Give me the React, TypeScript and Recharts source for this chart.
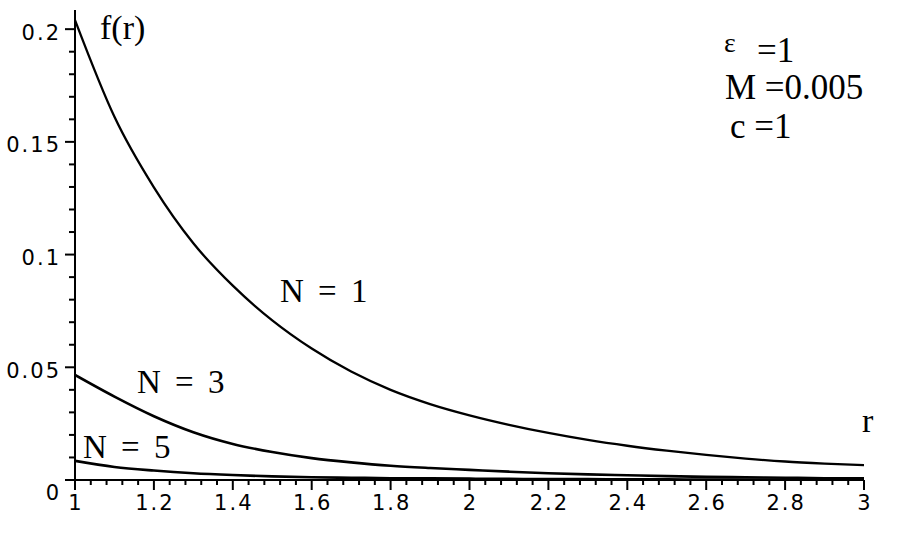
import React from 'react';
import { LineChart, Line, XAxis, YAxis, Customized } from 'recharts';

const rValues = [1, 1.1, 1.2, 1.3, 1.4, 1.5, 1.6, 1.7, 1.8, 1.9, 2.0, 2.1, 2.2, 2.3, 2.4, 2.5, 2.6, 2.7, 2.8, 2.9, 3.0];
const fN1 = [0.204, 0.1611, 0.1298, 0.1050, 0.0862, 0.0708, 0.0583, 0.0481, 0.0400, 0.0337, 0.0287, 0.0245, 0.0209, 0.0178, 0.0152, 0.0130, 0.0111, 0.0095, 0.0082, 0.0073, 0.0066];
const fN3 = [0.0466, 0.0370, 0.0283, 0.0212, 0.0160, 0.0124, 0.0097, 0.0078, 0.0063, 0.0053, 0.0045, 0.0037, 0.0030, 0.0025, 0.0021, 0.0017, 0.0014, 0.0012, 0.0010, 0.0008, 0.0007];
const fN5 = [0.0085, 0.0058, 0.0042, 0.0030, 0.0022, 0.0016, 0.0012, 0.0010, 0.0008, 0.0007, 0.0006, 0.0005, 0.0004, 0.0004, 0.0003, 0.0003, 0.0002, 0.0002, 0.0002, 0.0001, 0.0001];

const xMajorTicks = [1, 1.2, 1.4, 1.6, 1.8, 2, 2.2, 2.4, 2.6, 2.8, 3];
const xTickLabels = ['1', '1.2', '1.4', '1.6', '1.8', '2', '2.2', '2.4', '2.6', '2.8', '3'];
const yMajorTicks = [0, 0.05, 0.1, 0.15, 0.2];
const yTickLabels = ['0', '0.05', '0.1', '0.15', '0.2'];
const xMinorStep = 0.04;
const yMinorStep = 0.01;

const seriesLabels = ['N = 1', 'N = 3', 'N = 5'];
const paramLabels = ['ε', '=1', 'M =0.005', 'c =1'];

const data = rValues.map((r, i) => ({ r, n1: fN1[i], n3: fN3[i], n5: fN5[i] }));

const xTicks: number[] = [];
for (let i = 0; i < xMajorTicks.length - 1; i++) {
  const a = xMajorTicks[i];
  const b = xMajorTicks[i + 1];
  const n = Math.round((b - a) / xMinorStep);
  for (let k = 0; k < n; k++) xTicks.push(+(a + k * xMinorStep).toFixed(4));
}
xTicks.push(xMajorTicks[xMajorTicks.length - 1]);

const yTicks: number[] = [];
for (let i = 0; i < yMajorTicks.length - 1; i++) {
  const a = yMajorTicks[i];
  const b = yMajorTicks[i + 1];
  const n = Math.round((b - a) / yMinorStep);
  for (let k = 0; k < n; k++) yTicks.push(+(a + k * yMinorStep).toFixed(4));
}
yTicks.push(yMajorTicks[yMajorTicks.length - 1]);

const tickFont = { fontFamily: '"DejaVu Sans", sans-serif', fontSize: 21, letterSpacing: 2 };
const serif = '"Liberation Serif", "Times New Roman", serif';

const majorIndex = (list: number[], v: number) => list.findIndex((m) => Math.abs(m - v) < 1e-6);

const XTick = (props: any) => {
  const { x, y, payload } = props;
  const idx = majorIndex(xMajorTicks, payload.value);
  const major = idx >= 0;
  return (
    <g>
      <line x1={x} x2={x} y1={y} y2={y + (major ? 10 : 5)} stroke="#000" strokeWidth={2} />
      {major && (
        <text x={x + 1} y={y + 30} textAnchor="middle" fill="#000" style={tickFont}>
          {xTickLabels[idx]}
        </text>
      )}
    </g>
  );
};

const YTick = (props: any) => {
  const { x, y, payload } = props;
  const idx = majorIndex(yMajorTicks, payload.value);
  const major = idx >= 0;
  const isZero = major && yMajorTicks[idx] === 0;
  return (
    <g>
      <line x1={x - (major ? 10 : 6)} x2={x} y1={y} y2={y} stroke="#000" strokeWidth={2} />
      {major && (
        <text x={x - 14} y={y + (isZero ? 20 : 10.5)} textAnchor="end" fill="#000" style={tickFont}>
          {yTickLabels[idx]}
        </text>
      )}
    </g>
  );
};

const Annotations = () => (
  <g fill="#000" style={{ fontFamily: serif }}>
    <text x={100} y={39} fontSize={34}>f(r)</text>
    <text x={862} y={432} fontSize={34}>r</text>
    <text x={280} y={302} fontSize={33} style={{ wordSpacing: 6 }}>{seriesLabels[0]}</text>
    <text x={137} y={393} fontSize={33} style={{ wordSpacing: 6 }}>{seriesLabels[1]}</text>
    <text x={83} y={458} fontSize={33} style={{ wordSpacing: 6 }}>{seriesLabels[2]}</text>
    <text x={724} y={52} fontSize={28}>{paramLabels[0]}</text>
    <text x={757} y={62} fontSize={35}>{paramLabels[1]}</text>
    <text x={725} y={99} fontSize={35}>{paramLabels[2]}</text>
    <text x={730} y={138} fontSize={35}>{paramLabels[3]}</text>
  </g>
);

export default function App() {
  return (
    <div style={{ position: 'absolute', left: 0, top: 0, width: 900, height: 539, background: '#fff' }}>
      <LineChart width={900} height={539} data={data} margin={{ top: 10, right: 36, bottom: 58, left: 74 }}>
        <XAxis
          dataKey="r"
          type="number"
          domain={[1, 3]}
          ticks={xTicks}
          interval={0}
          tick={<XTick />}
          tickLine={false}
          tickSize={0}
          tickMargin={0}
          height={1}
          axisLine={{ stroke: '#000', strokeWidth: 2 }}
          allowDataOverflow
        />
        <YAxis
          type="number"
          domain={[0, 0.2085]}
          ticks={yTicks}
          interval={0}
          tick={<YTick />}
          tickLine={false}
          tickSize={0}
          tickMargin={0}
          width={1}
          axisLine={{ stroke: '#000', strokeWidth: 2 }}
          allowDataOverflow
        />
        <Line dataKey="n1" type="monotone" stroke="#000" strokeWidth={2.3} dot={false} isAnimationActive={false} />
        <Line dataKey="n3" type="monotone" stroke="#000" strokeWidth={2.6} dot={false} isAnimationActive={false} />
        <Line dataKey="n5" type="monotone" stroke="#000" strokeWidth={2.6} dot={false} isAnimationActive={false} />
        <Customized component={Annotations} />
      </LineChart>
    </div>
  );
}
